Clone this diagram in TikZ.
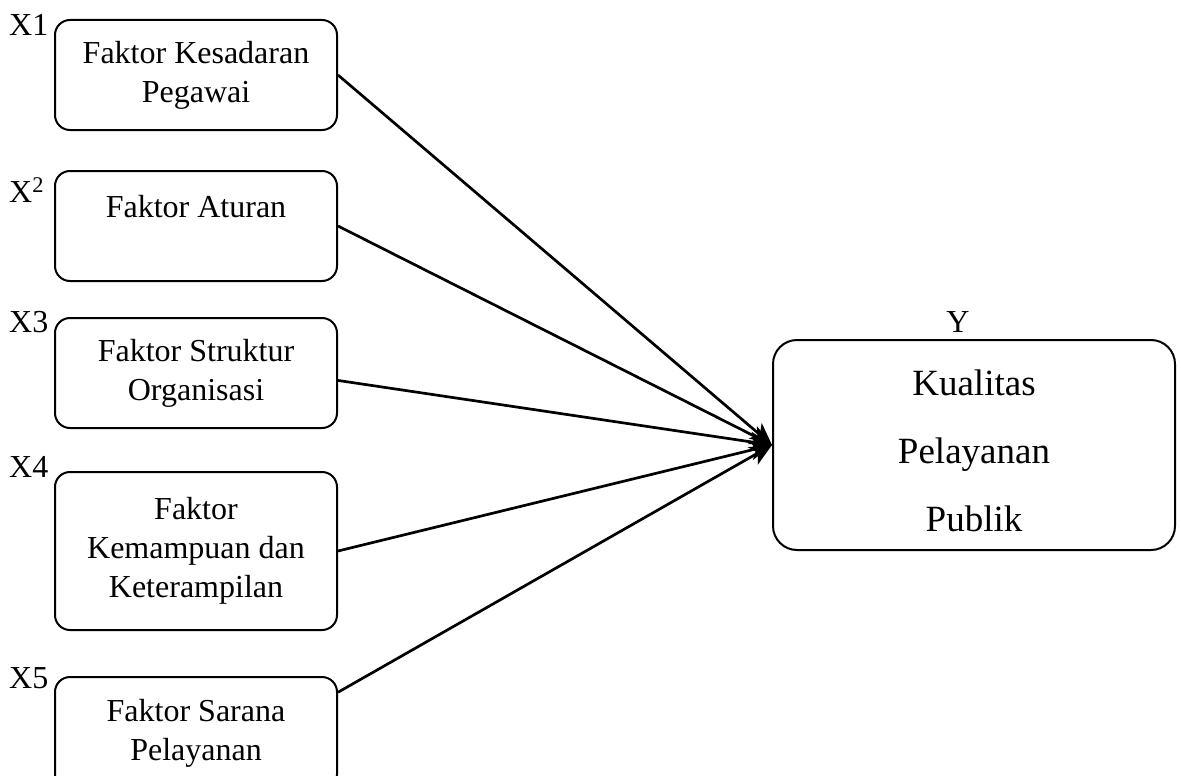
\documentclass[tikz,border=0pt]{standalone}
\usepackage{fontspec}
\setmainfont{Liberation Serif}
\usetikzlibrary{arrows.meta}
\begin{document}
\begin{tikzpicture}[
		x=1pt, y=-1pt,
		>={Stealth[length=22pt, width=20pt, inset=6pt]},
		every node/.style={font=\fontsize{32}{39}\selectfont},
		factor/.style={draw, line width=2pt, rounded corners=15pt, minimum width=282pt, align=center, inner sep=0pt},
		result/.style={draw, line width=2pt, rounded corners=24pt, minimum width=402pt, minimum height=210pt, align=center, inner sep=0pt, font=\fontsize{37}{68}\selectfont},
		tag/.style={anchor=base west, inner sep=0pt},
		link/.style={->, line width=2.7pt}
	]
		\useasboundingbox (0,0) rectangle (1181,776);

		% Factors
		\node[factor, minimum height=110pt] (x1) at (196, 75) {Faktor Kesadaran\\Pegawai};
		\node[factor, minimum height=110pt] (x2) at (196, 226) {Faktor Aturan\\~};
		\node[factor, minimum height=110pt] (x3) at (196, 373) {Faktor Struktur\\Organisasi};
		\node[factor, minimum height=158pt] (x4) at (196, 551) {Faktor\\Kemampuan dan\\Keterampilan};
		\node[factor, minimum height=112pt] (x5) at (196, 733) {Faktor Sarana\\Pelayanan};

		% Result
		\node[result] (y) at (974, 445) {\rule{0pt}{38pt}Kualitas\\Pelayanan\\Publik};

		% Labels
		\node[tag] (t1) at (9, 36) {X1};
		\node[tag] (t2) at (9, 202) {X\textsuperscript{2}};
		\node[tag] (t3) at (9, 332) {X3};
		\node[tag] (t4) at (9, 477) {X4};
		\node[tag] (t5) at (9, 688) {X5};
		\node[anchor=base] (ty) at (958, 332) {Y};

		% Links
		\draw[link] (x1.east) -- (y.west);
		\draw[link] (x2.east) -- (y.west);
		\draw[link] (x3.-3) -- (y.west);
		\draw[link] (x4.east) -- (y.west);
		\draw[link] (x5.16) -- (y.west);
	\end{tikzpicture}
\end{document}
